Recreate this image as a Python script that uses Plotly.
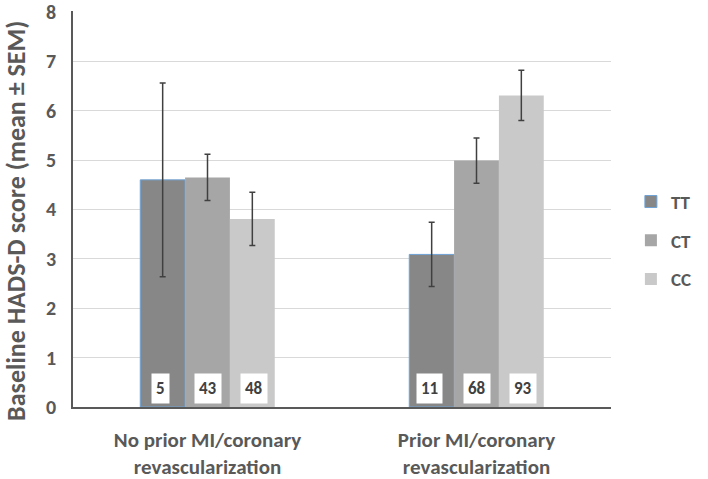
import plotly.graph_objects as go

categories = ['No prior MI/coronary<br>revascularization', 'Prior MI/coronary<br>revascularization']
genotypes = ['TT', 'CT', 'CC']
means = {
    'TT': [4.60, 3.09],
    'CT': [4.65, 4.99],
    'CC': [3.81, 6.31],
}
sems = {
    'TT': [1.96, 0.65],
    'CT': [0.47, 0.46],
    'CC': [0.54, 0.51],
}
counts = {
    'TT': [5, 11],
    'CT': [43, 68],
    'CC': [48, 93],
}
colors = {'TT': '#878787', 'CT': '#a6a6a6', 'CC': '#c9c9c9'}
outline = {'TT': '#6fa3d6', 'CT': '#a6a6a6', 'CC': '#c9c9c9'}
y_title = 'Baseline HADS-D score (mean ± SEM)'

FONT = 'Carlito, Lato, sans-serif'
TXT = '#595959'

W, H = 708, 479
margin = dict(l=73, r=73, t=11, b=72)
bargap = 0.5

fig = go.Figure()
for g in genotypes:
    fig.add_trace(go.Bar(
        x=categories,
        y=means[g],
        name=g,
        marker_color=colors[g],
        marker_line=dict(color=outline[g], width=1 if g == 'TT' else 0),
        error_y=dict(type='data', array=sems[g], color='#404040', thickness=1.5, width=3),
        legendgroup=g,
    ))

# white count boxes at the foot of each bar
plot_w = W - margin['l'] - margin['r']
bar_px = plot_w / len(categories) * (1 - bargap) / len(genotypes)
for i, g in enumerate(genotypes):
    for c, n in zip(categories, counts[g]):
        fig.add_annotation(
            x=c, y=0, xref='x', yref='y', yanchor='bottom',
            xshift=(i - 1) * bar_px, yshift=3,
            text=str(n), showarrow=False,
            bgcolor='white', borderpad=4,
            font=dict(family=FONT, size=17, color='#404040', weight='bold'),
        )

# y title as a rotated annotation (sits a bit below the plot centre in the original)
fig.add_annotation(
    x=0, y=0.47, xref='paper', yref='paper', xanchor='center', yanchor='middle',
    xshift=-57, text=y_title, textangle=-90, showarrow=False,
    font=dict(family=FONT, size=26, color=TXT, weight='bold'),
)

fig.update_yaxes(
    range=[0, 8.02], tickvals=list(range(0, 9)), showgrid=True, gridcolor='#d9d9d9', gridwidth=1,
    showline=True, linecolor=TXT, linewidth=1.5, ticks='', zeroline=False, automargin=False,
    tickfont=dict(family=FONT, size=20, color=TXT, weight='bold'), ticklabelstandoff=11,
    ticklabeloverflow='allow',
)
fig.update_xaxes(
    showline=True, linecolor=TXT, linewidth=1.5, ticks='', automargin=False,
    tickfont=dict(family=FONT, size=21, color=TXT, weight='bold'), ticklabelstandoff=13,
    ticklabeloverflow='allow',
)
fig.update_layout(
    width=W, height=H, margin=margin,
    barmode='group', bargap=bargap, bargroupgap=0,
    plot_bgcolor='white', paper_bgcolor='white',
    legend=dict(x=1.037, y=0.42, xanchor='left', yanchor='middle',
                font=dict(family=FONT, size=19, color=TXT, weight='bold'),
                tracegroupgap=11),
    showlegend=True,
)

# page body has an 8px default margin; drop it so the figure fills the window
fig.write_html("out.html", config={'displayModeBar': False},
               post_script="document.body.style.margin='0';")
